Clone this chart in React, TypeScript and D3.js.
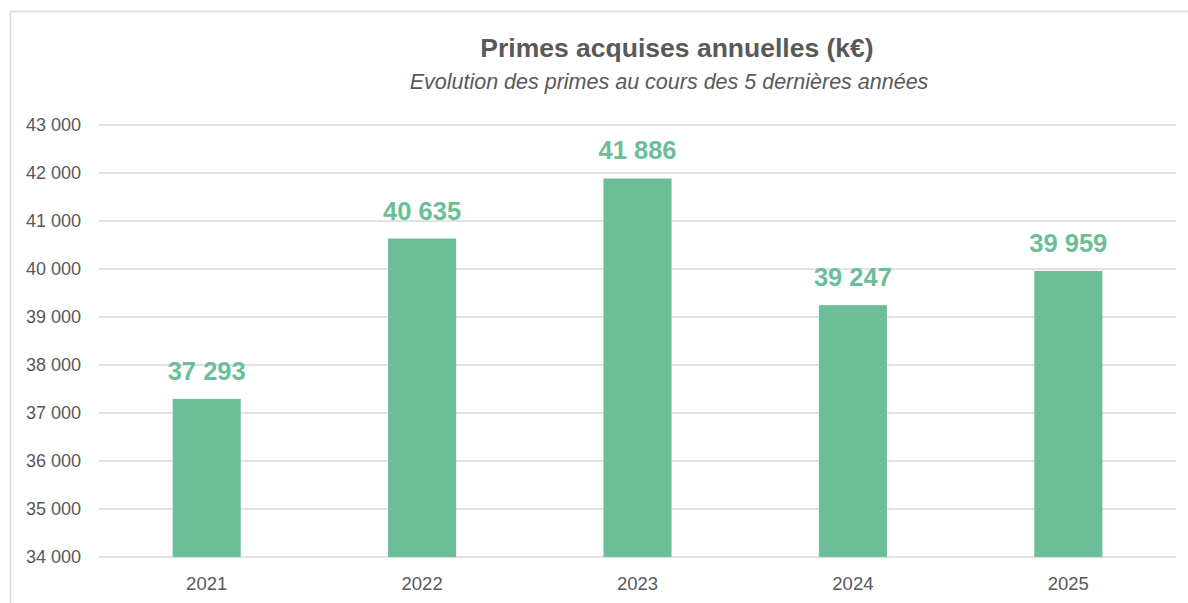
import React from "react";
import * as d3 from "d3";

const years = ["2021", "2022", "2023", "2024", "2025"];
const primes = [37293, 40635, 41886, 39247, 39959];
const yTicks = [34000, 35000, 36000, 37000, 38000, 39000, 40000, 41000, 42000, 43000];

const W = 1188;
const H = 603;
const left = 99;
const right = 1176;
const top = 125;
const bottom = 557;

const fr = d3.formatLocale({
  decimal: ",",
  thousands: " ",
  grouping: [3],
  currency: ["", " €"],
});
const fmt = fr.format(",d");

const App = () => {
  const x = d3
    .scaleBand()
    .domain(years)
    .range([left, right])
    .paddingInner(0.684)
    .paddingOuter(0.342);

  const y = d3.scaleLinear().domain([34000, 43000]).range([bottom, top]);

  const font = "'Liberation Sans', Arial, sans-serif";

  return (
    <svg
      width={W}
      height={H}
      style={{ position: "absolute", left: 0, top: 0, background: "#fff" }}
    >
      <rect x={10.5} y={11.5} width={W} height={H} fill="#fff" stroke="#d9d9d9" strokeWidth={1.5} />

      <text
        x={677}
        y={57}
        textAnchor="middle"
        fontFamily={font}
        fontWeight="bold"
        fontSize={26.5}
        fill="#595959"
      >
        Primes acquises annuelles (k€)
      </text>
      <text
        x={669}
        y={89}
        textAnchor="middle"
        fontFamily={font}
        fontStyle="italic"
        fontSize={21.5}
        fill="#595959"
      >
        Evolution des primes au cours des 5 dernières années
      </text>

      {yTicks.map((t) => (
        <g key={t}>
          <line x1={left} x2={right} y1={y(t)} y2={y(t)} stroke="#d9d9d9" strokeWidth={1.5} />
          <text
            x={81}
            y={y(t)}
            dy="0.35em"
            textAnchor="end"
            fontFamily={font}
            fontSize={18}
            fill="#595959"
          >
            {fmt(t)}
          </text>
        </g>
      ))}

      {years.map((yr, i) => (
        <g key={yr}>
          <rect
            x={x(yr)}
            y={y(primes[i])}
            width={x.bandwidth()}
            height={bottom - y(primes[i])}
            fill="#6bbe98"
          />
          <text
            x={(x(yr) as number) + x.bandwidth() / 2}
            y={y(primes[i]) - 19}
            textAnchor="middle"
            fontFamily={font}
            fontWeight="bold"
            fontSize={25.5}
            fill="#6bbe98"
          >
            {fmt(primes[i])}
          </text>
          <text
            x={(x(yr) as number) + x.bandwidth() / 2}
            y={590}
            textAnchor="middle"
            fontFamily={font}
            fontSize={18.5}
            fill="#595959"
          >
            {yr}
          </text>
        </g>
      ))}
    </svg>
  );
};

export default App;
